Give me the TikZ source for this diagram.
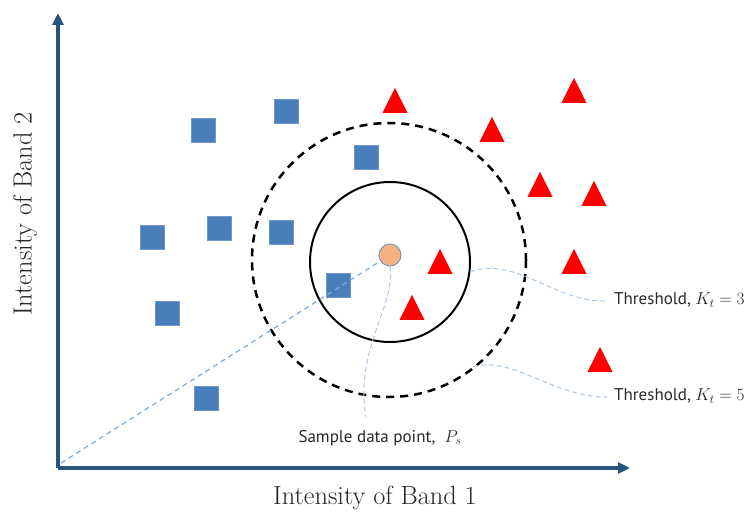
\documentclass[tikz,border=0pt]{standalone}
\usepackage{fontspec}
\newfontfamily\labelfont{PT Sans}
\usetikzlibrary{arrows.meta,shapes.geometric}

\definecolor{axisblue}{RGB}{40,84,128}
\definecolor{sqblue}{RGB}{74,126,187}
\definecolor{sqedge}{RGB}{110,150,200}
\definecolor{leader}{RGB}{170,200,228}
\definecolor{ray}{RGB}{125,170,220}
\definecolor{ptfill}{RGB}{244,177,131}
\definecolor{ptedge}{RGB}{100,140,190}
\definecolor{notetext}{RGB}{40,40,40}

\newcommand{\notemath}[1]{{\fontsize{18}{20}\selectfont$#1$}}

\tikzset{
  axisline/.style={draw=axisblue, line width=4pt, -{Triangle[length=12pt,width=11pt]}},
  sqmark/.style={rectangle, fill=sqblue, draw=sqedge, line width=0.5pt,
    minimum size=24pt, inner sep=0pt},
  trimark/.style={isosceles triangle, isosceles triangle stretches=true,
    shape border rotate=90, fill=red, draw=none, minimum width=25pt,
    minimum height=25pt, inner sep=0pt, anchor=south},
  samplept/.style={circle, fill=ptfill, draw=ptedge, line width=0.8pt,
    minimum size=22pt, inner sep=0pt},
  leaderline/.style={draw=leader, line width=1pt, dash pattern=on 5pt off 3pt},
  rayline/.style={draw=ray, line width=1.2pt, dash pattern=on 5pt off 4pt},
  axislabel/.style={font=\fontsize{26.3}{29}\selectfont, text=black!85, inner sep=0pt},
  notelabel/.style={font=\labelfont\fontsize{17}{19}\selectfont, text=notetext, inner sep=0pt},
}

\begin{document}
\begin{tikzpicture}[x=1pt, y=-1pt]
\useasboundingbox (0,0) rectangle (754,511);

% axes
\coordinate (O) at (58,468);
\coordinate (xtip) at (630,468);
\coordinate (ytip) at (58,13);
\draw[axisline] (O) -- (xtip);
\draw[axisline] (O) -- (ytip);
\node[axislabel] (xlab) at (375,498) {Intensity of Band 1};
\node[axislabel, rotate=90] (ylab) at (25,214) {Intensity of Band 2};

% neighbourhood circles around the sample
\coordinate (cin) at (390,262);
\coordinate (cout) at (389,260);
\draw[black, line width=2pt] (cin) circle[radius=80];
\draw[black, line width=2.5pt, dash pattern=on 8pt off 6pt] (cout) circle[radius=137];

% class 1: squares
\node[sqmark] (s1) at (203,130) {};
\node[sqmark] (s2) at (286,111) {};
\node[sqmark] (s3) at (366,157) {};
\node[sqmark] (s4) at (152,237) {};
\node[sqmark] (s5) at (219,228) {};
\node[sqmark] (s6) at (281,232) {};
\node[sqmark] (s7) at (167,313) {};
\node[sqmark] (s8) at (338,285) {};
\node[sqmark] (s9) at (206,398) {};

% class 2: triangles
\node[trimark] (t1) at (395,113) {};
\node[trimark] (t2) at (492,142) {};
\node[trimark] (t3) at (574,103) {};
\node[trimark] (t4) at (540,197) {};
\node[trimark] (t5) at (594,206) {};
\node[trimark] (t6) at (440,274) {};
\node[trimark] (t7) at (574,274) {};
\node[trimark] (t8) at (412,320) {};
\node[trimark] (t9) at (600,372) {};

% sample point and its position vector
\node[samplept] (P) at (390,255) {};
\draw[rayline] (O) ++(3,-5) coordinate (O2) -- (P);

% annotations
\node[notelabel] (plab) at (380,438) {Sample data point,\ \ \notemath{P_s}};
\node[notelabel, anchor=west] (k3) at (614,300) {Threshold, \notemath{K_t = 3}};
\node[notelabel, anchor=west] (k5) at (614,396) {Threshold, \notemath{K_t = 5}};

% leader ends stop short of their labels
\coordinate (k3s) at (470,272);
\coordinate (k5s) at (473,367);
\coordinate (pend) at (366,417);
\coordinate (k3e) at (607,301);
\coordinate (k5e) at (607,397);
\draw[leaderline] (P.south) .. controls (396,305) and (354,350) .. (pend);
\draw[leaderline] (k3s) .. controls (515,255) and (555,303) .. (k3e);
\draw[leaderline] (k5s) .. controls (512,355) and (555,398) .. (k5e);
\end{tikzpicture}
\end{document}
